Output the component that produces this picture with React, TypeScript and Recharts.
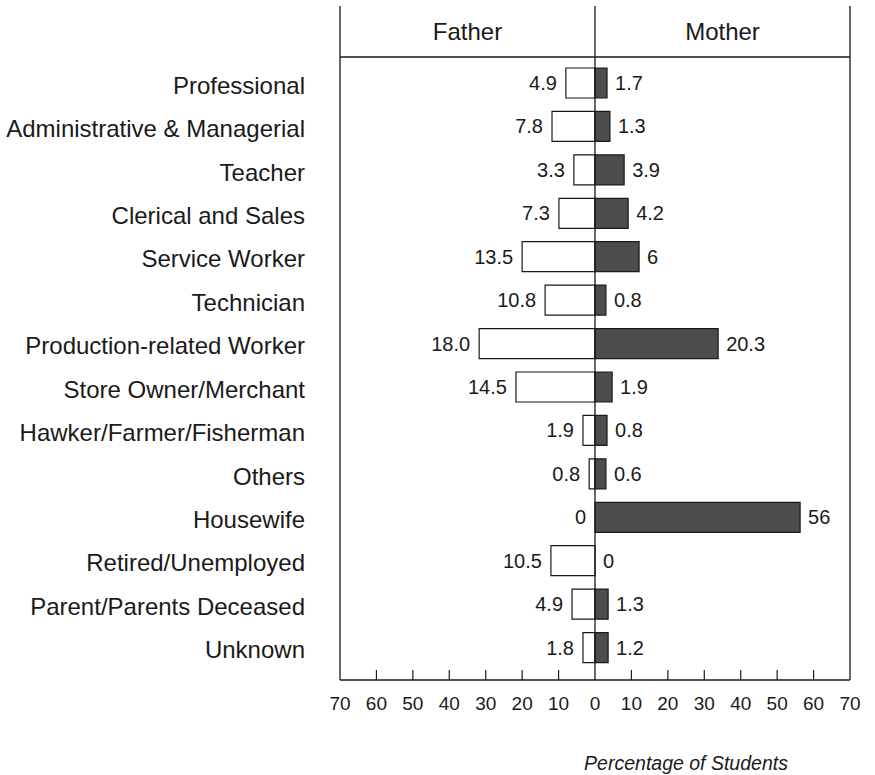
import React from 'react';
import { BarChart, Bar, XAxis, YAxis, ReferenceLine, LabelList } from 'recharts';

const categories = [
  'Professional',
  'Administrative & Managerial',
  'Teacher',
  'Clerical and Sales',
  'Service Worker',
  'Technician',
  'Production-related Worker',
  'Store Owner/Merchant',
  'Hawker/Farmer/Fisherman',
  'Others',
  'Housewife',
  'Retired/Unemployed',
  'Parent/Parents Deceased',
  'Unknown',
];

// bar lengths as drawn in the picture (percentage scale)
const fatherBar = [8.0, 11.8, 5.8, 9.9, 20.0, 13.7, 31.8, 21.7, 3.3, 1.6, 0, 12.1, 6.3, 3.3];
const motherBar = [3.3, 4.1, 8.0, 9.1, 12.1, 3.0, 33.8, 4.7, 3.3, 3.0, 56.3, 0, 3.6, 3.6];

// printed value labels
const fatherLabels = ['4.9', '7.8', '3.3', '7.3', '13.5', '10.8', '18.0', '14.5', '1.9', '0.8', '0', '10.5', '4.9', '1.8'];
const motherLabels = ['1.7', '1.3', '3.9', '4.2', '6', '0.8', '20.3', '1.9', '0.8', '0.6', '56', '0', '1.3', '1.2'];

const xTicks = [-70, -60, -50, -40, -30, -20, -10, 0, 10, 20, 30, 40, 50, 60, 70];
const headerTicks = [-70, -35, 0, 35, 70];
const panelTitles = ['Father', 'Mother'];
const axisTitle = 'Percentage of Students';

const FONT = '"Liberation Sans", Arial, Helvetica, sans-serif';
const INK = '#1a1a1a';
const LW = 1.3;

const data = categories.map((c, i) => ({
  name: c,
  father: -fatherBar[i],
  mother: motherBar[i],
}));

const XTick = (props: any) => {
  const { x, y, payload } = props;
  const v = payload.value;
  const showLine = v !== 0 && Math.abs(v) !== 70;
  return (
    <g>
      {showLine && <line x1={x} y1={y} x2={x} y2={y - 10} stroke={INK} strokeWidth={1.2} />}
      <text x={x} y={y + 30} textAnchor="middle" fontSize={19} fill={INK} fontFamily={FONT}>
        {Math.abs(v)}
      </text>
    </g>
  );
};

const HeaderTick = (props: any) => {
  const { x, y, payload } = props;
  const v = payload.value;
  if (v === -35 || v === 35) {
    return (
      <text x={x} y={y - 17} textAnchor="middle" fontSize={24} fill={INK} fontFamily={FONT}>
        {v < 0 ? panelTitles[0] : panelTitles[1]}
      </text>
    );
  }
  return <line x1={x} y1={y} x2={x} y2={y - 51} stroke={INK} strokeWidth={LW} />;
};

const YTick = (props: any) => {
  const { x, y, payload } = props;
  return (
    <text x={x} y={y + 11} textAnchor="end" fontSize={24} fill={INK} fontFamily={FONT}>
      {payload.value}
    </text>
  );
};

const ValueText = ({ x, y, anchor, children }: any) => (
  <text x={x} y={y} textAnchor={anchor} fontSize={20} fill={INK} fontFamily={FONT}>
    {children}
  </text>
);

const FatherLabel = (props: any) => {
  const { x, y, width, height, value } = props;
  const i = categories.indexOf(value);
  const left = Math.min(x, x + width);
  const zero = Math.max(x, x + width);
  const cy = y + height / 2 + 7;
  return (
    <g>
      <ValueText x={left - 9} y={cy} anchor="end">{fatherLabels[i]}</ValueText>
      {motherBar[i] === 0 && <ValueText x={zero + 8} y={cy} anchor="start">{motherLabels[i]}</ValueText>}
    </g>
  );
};

const MotherLabel = (props: any) => {
  const { x, y, width, height, value } = props;
  const i = categories.indexOf(value);
  const right = Math.max(x, x + width);
  const zero = Math.min(x, x + width);
  const cy = y + height / 2 + 7;
  return (
    <g>
      <ValueText x={right + 8} y={cy} anchor="start">{motherLabels[i]}</ValueText>
      {fatherBar[i] === 0 && <ValueText x={zero - 9} y={cy} anchor="end">{fatherLabels[i]}</ValueText>}
    </g>
  );
};

const AxisTitle = (props: any) => {
  const { viewBox } = props;
  return (
    <text
      x={viewBox.x + viewBox.width / 2 + 91}
      y={viewBox.y + 90}
      textAnchor="middle"
      fontSize={19.5}
      fontStyle="italic"
      fill={INK}
      fontFamily={FONT}
    >
      {axisTitle}
    </text>
  );
};

export default function App() {
  return (
    <div style={{ position: 'absolute', left: 0, top: 0, width: 875, height: 775, background: '#fff', fontFamily: FONT }}>
      <BarChart
        width={875}
        height={775}
        data={data}
        layout="vertical"
        stackOffset="sign"
        margin={{ top: 6, right: 25, bottom: 0, left: 0 }}
      >
        <XAxis
          type="number"
          domain={[-70, 70]}
          ticks={xTicks}
          allowDataOverflow
          height={95}
          tickSize={0}
          tickMargin={0}
          tickLine={false}
          axisLine={{ stroke: INK, strokeWidth: LW }}
          tick={<XTick />}
          interval={0}
          label={<AxisTitle />}
        />
        <XAxis
          xAxisId="header"
          orientation="top"
          type="number"
          domain={[-70, 70]}
          ticks={headerTicks}
          allowDataOverflow
          height={51}
          tickSize={0}
          tickMargin={0}
          tickLine={false}
          axisLine={{ stroke: INK, strokeWidth: LW }}
          tick={<HeaderTick />}
          interval={0}
        />
        <XAxis
          xAxisId="topBorder"
          orientation="top"
          type="number"
          domain={[-70, 70]}
          height={0}
          tick={false}
          tickLine={false}
          axisLine={{ stroke: INK, strokeWidth: LW }}
        />
        <YAxis
          type="category"
          dataKey="name"
          width={340}
          tickSize={0}
          tickMargin={35}
          tickLine={false}
          axisLine={false}
          tick={<YTick />}
          interval={0}
          padding={{ top: 4, bottom: 11 }}
        />
        <Bar
          dataKey="father"
          stackId="s"
          barSize={30}
          fill="#ffffff"
          stroke={INK}
          strokeWidth={1.2}
          isAnimationActive={false}
        >
          <LabelList dataKey="name" content={<FatherLabel />} />
        </Bar>
        <Bar
          dataKey="mother"
          stackId="s"
          barSize={30}
          fill="#4d4d4d"
          stroke={INK}
          strokeWidth={1.2}
          isAnimationActive={false}
        >
          <LabelList dataKey="name" content={<MotherLabel />} />
        </Bar>
        <ReferenceLine x={-70} stroke={INK} strokeWidth={LW} />
        <ReferenceLine x={70} stroke={INK} strokeWidth={LW} />
        <ReferenceLine x={0} stroke={INK} strokeWidth={LW} />
      </BarChart>
    </div>
  );
}
